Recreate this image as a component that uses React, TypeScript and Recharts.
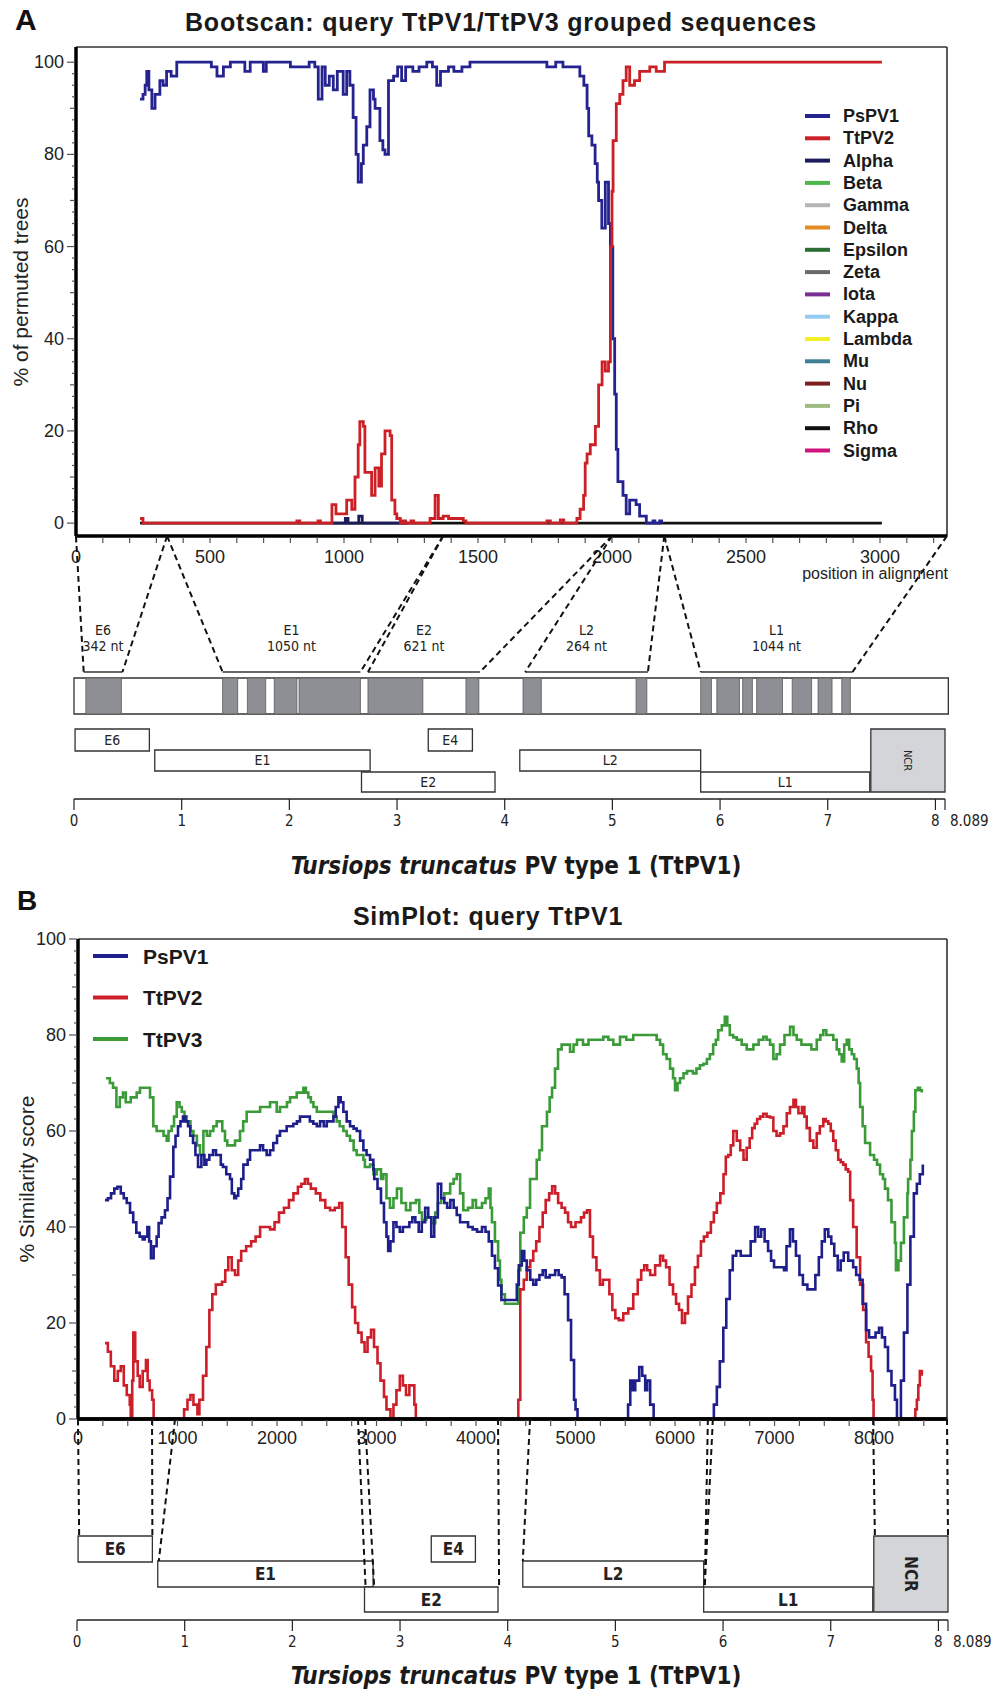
import React from "react";
import { LineChart, Line, XAxis, YAxis, ReferenceLine, ReferenceArea, ComposedChart } from "recharts";

const SANS = '"Liberation Sans", Arial, Helvetica, sans-serif';
const NARROW = '"Liberation Sans Narrow", "DejaVu Sans Condensed", "Liberation Sans", Arial, sans-serif';

// ---------- panel A: bootscan (position in alignment, % of permuted trees) ----------
const bootPsPV1 = [
  [239, 92], [250, 93], [258, 95], [264, 98], [272, 94], [283, 90], [295, 93], [313, 96], [325, 95], [338, 98],
  [355, 97], [376, 100], [505, 99], [526, 97], [550, 99], [576, 100], [630, 98], [650, 100], [699, 98], [710, 100],
  [800, 99], [836, 99], [870, 100], [891, 99], [904, 92], [918, 99], [930, 95], [945, 97], [960, 94], [975, 98],
  [997, 93], [1010, 98], [1022, 95], [1034, 88], [1045, 80], [1053, 74], [1065, 78], [1072, 82], [1085, 86], [1097, 94],
  [1110, 92], [1116, 90], [1134, 83], [1145, 81], [1153, 80], [1166, 96], [1185, 97], [1200, 99], [1215, 96], [1230, 99],
  [1257, 98], [1280, 99], [1309, 100], [1330, 99], [1346, 95], [1360, 98], [1390, 99], [1410, 98], [1440, 99], [1470, 100],
  [1743, 100], [1757, 99], [1790, 100], [1817, 99], [1850, 99], [1880, 97], [1895, 95], [1907, 90], [1913, 84], [1925, 82],
  [1937, 78], [1945, 74], [1950, 70], [1962, 64], [1975, 74], [1987, 65], [1994, 60], [2003, 40], [2010, 28], [2016, 16],
  [2022, 9], [2041, 6], [2053, 2], [2066, 5], [2090, 4], [2103, 1.5], [2128, 0], [2153, 0.5], [2160, 0], [2178, 0.5], [2185, 0],
];
const bootTtPV2 = [
  [239, 1], [250, 0], [824, 0.5], [835, 0], [903, 0.5], [912, 0], [955, 4], [970, 2], [1000, 2], [1010, 5],
  [1029, 3], [1041, 10], [1053, 17], [1059, 22], [1072, 21], [1078, 11], [1097, 11], [1103, 6], [1116, 12], [1130, 8],
  [1140, 15], [1153, 20], [1172, 19], [1178, 5], [1190, 2], [1197, 1], [1210, 0], [1220, 0.5], [1230, 0], [1250, 0.5],
  [1260, 0], [1321, 1], [1340, 6], [1352, 1], [1370, 1.5], [1390, 1], [1413, 1], [1445, 0.5], [1455, 0], [1757, 0.5],
  [1770, 0], [1807, 0.7], [1820, 0], [1869, 1], [1881, 3], [1894, 6], [1900, 13], [1907, 15], [1919, 17], [1938, 21],
  [1950, 30], [1963, 35], [1975, 33], [1987, 35], [1994, 60], [2000, 72], [2004, 83], [2016, 91], [2029, 93], [2041, 96],
  [2053, 99], [2066, 95], [2084, 96], [2103, 98], [2141, 99], [2165, 98], [2196, 100], [3007, 100],
];
const bootAlpha = [[960, 0], [1005, 1], [1015, 0], [1055, 1.5], [1068, 0], [1240, 0]];
const bootRho = [[239, 0], [3007, 0]];

const bootNames = ["PsPV1", "TtPV2", "Alpha", "Beta", "Gamma", "Delta", "Epsilon", "Zeta", "Iota", "Kappa", "Lambda", "Mu", "Nu", "Pi", "Rho", "Sigma"];
const bootColors: Record<string, string> = {
  PsPV1: "#25238f", TtPV2: "#cc2027", Alpha: "#1c1c5c", Beta: "#4cb84a", Gamma: "#b6b6b6", Delta: "#e38b22",
  Epsilon: "#2d6e34", Zeta: "#6a6a6a", Iota: "#7a3093", Kappa: "#93cbf2", Lambda: "#f2ef26", Mu: "#3f7f95",
  Nu: "#7b1f1f", Pi: "#9dbb80", Rho: "#111111", Sigma: "#d0157c",
};

// alignment map below the bootscan (genome positions in kb)
const alignBlocks = [
  [0.11, 0.44], [1.38, 1.52], [1.61, 1.78], [1.86, 2.07], [2.09, 2.66], [2.73, 3.24], [3.64, 3.76], [4.17, 4.34],
  [5.22, 5.32], [5.82, 5.92], [5.97, 6.18], [6.21, 6.3], [6.34, 6.58], [6.67, 6.85], [6.91, 7.04], [7.13, 7.21],
];
const alignRegions = ["E6", "E1", "E2", "L2", "L1"];
const alignRegionNt = ["342 nt", "1050 nt", "621 nt", "264 nt", "1044 nt"];
const alignRegionSpan = [[0.09, 0.45], [1.38, 2.66], [2.73, 3.77], [4.19, 5.33], [5.82, 7.23]];
const alignCuts = [0, 340, 1370, 2000, 2195, 3250];

// ---------- panel B: SimPlot ----------
const simPsPV1 = [
  [271, 45.6], [300, 46], [332, 47], [365, 48], [396, 48.4], [430, 47], [460, 46], [490, 45], [523, 43], [555, 41],
  [586, 38.8], [620, 38], [650, 37.4], [670, 38], [697, 40], [715, 37], [733, 33.5], [760, 36], [790, 38], [810, 40.8],
  [840, 42], [874, 43.5], [900, 46], [925, 50.5], [958, 56.7], [980, 59], [1005, 61], [1030, 62], [1055, 63], [1080, 62],
  [1106, 61], [1128, 59], [1156, 57.5], [1180, 55], [1206, 52.5], [1240, 55], [1270, 53], [1290, 54], [1320, 55], [1357, 56],
  [1387, 55], [1435, 53], [1457, 52.5], [1490, 51], [1528, 50], [1546, 47], [1570, 46], [1589, 46.5], [1610, 48], [1640, 50],
  [1662, 53], [1705, 54], [1729, 56], [1829, 57], [1860, 56], [1896, 55], [1930, 56], [1963, 57.5], [2000, 59], [2030, 60],
  [2097, 61], [2164, 61.5], [2200, 62], [2231, 63], [2330, 62], [2365, 61.5], [2400, 61], [2433, 62], [2470, 61], [2500, 62],
  [2567, 63], [2590, 65], [2617, 67], [2640, 66], [2667, 64], [2700, 62], [2734, 61], [2770, 60.5], [2801, 60], [2835, 58],
  [2868, 56], [2900, 55], [2935, 54], [2968, 52], [2977, 50], [3010, 48], [3045, 45], [3075, 41], [3100, 38], [3117, 35],
  [3140, 37], [3170, 41], [3200, 40], [3234, 39], [3265, 40], [3330, 41], [3360, 42], [3390, 41], [3424, 39], [3455, 41],
  [3489, 44], [3520, 42], [3550, 38], [3580, 42], [3616, 49], [3650, 46], [3681, 45], [3710, 44], [3742, 45.6], [3775, 44],
  [3806, 42.5], [3840, 41], [3920, 40], [3966, 39.5], [4010, 39], [4060, 40], [4095, 39], [4128, 37], [4160, 34], [4190, 31.4],
  [4222, 27.8], [4255, 24.8], [4380, 24.8], [4410, 28], [4430, 32], [4460, 35], [4485, 33], [4510, 31], [4545, 29], [4575, 28],
  [4605, 29], [4637, 30], [4670, 31], [4700, 29.5], [4740, 30], [4795, 31], [4830, 30], [4860, 29.5], [4890, 26], [4925, 20.6],
  [4955, 12.3], [4985, 4], [5000, 2], [5020, 0], [5500, 0], [5528, 3], [5550, 8], [5575, 6], [5600, 8], [5640, 10.8],
  [5670, 9], [5700, 6], [5720, 8], [5750, 3], [5785, 0], [6360, 0], [6390, 3], [6420, 6.7], [6450, 12], [6485, 19],
  [6515, 25], [6550, 31], [6580, 34], [6615, 35], [6660, 34], [6760, 37], [6805, 40], [6835, 38], [6865, 39.5], [6900, 37],
  [6935, 35], [6965, 33], [6995, 31.6], [7095, 31], [7120, 36], [7155, 39.5], [7185, 37], [7215, 34], [7250, 30], [7285, 28],
  [7330, 27], [7377, 27], [7410, 30], [7445, 33.7], [7475, 37], [7505, 39.5], [7540, 38], [7570, 36.5], [7600, 34], [7635, 31],
  [7665, 33], [7695, 34.7], [7740, 33], [7790, 31.6], [7820, 30], [7855, 29], [7885, 24], [7920, 18.5], [7950, 17], [8015, 18],
  [8050, 19], [8080, 17], [8110, 15], [8140, 10], [8175, 7], [8210, 4], [8230, 0], [8260, 0], [8270, 8], [8300, 18],
  [8335, 28], [8365, 38], [8400, 47], [8430, 49], [8460, 51], [8490, 53],
];
const simTtPV2 = [
  [271, 15.8], [300, 14], [330, 11], [365, 8], [400, 10], [430, 11], [460, 7], [490, 5], [520, 3], [530, 0],
  [545, 8], [556, 18], [575, 12], [600, 9], [620, 6.7], [650, 10], [683, 12.3], [700, 8], [720, 6], [745, 4],
  [760, 0], [1050, 0], [1066, 2], [1100, 4], [1130, 5], [1160, 3], [1200, 1], [1220, 4], [1256, 9], [1290, 15],
  [1320, 22.7], [1350, 26], [1385, 28], [1447, 28.6], [1480, 31], [1510, 33.7], [1545, 31], [1578, 30], [1610, 33], [1640, 35],
  [1690, 36], [1740, 37], [1785, 38], [1830, 40], [1930, 39.5], [1975, 41], [2020, 43], [2070, 44], [2120, 45.6], [2165, 47],
  [2210, 48.4], [2245, 49], [2280, 50], [2310, 49], [2340, 48], [2390, 47], [2435, 45.6], [2485, 44], [2533, 43.5], [2580, 44],
  [2625, 45], [2655, 40], [2690, 33.7], [2720, 28], [2755, 23.3], [2785, 20], [2815, 18], [2850, 16], [2880, 14], [2910, 17],
  [2945, 18.6], [2975, 15], [3010, 11.6], [3040, 8], [3075, 4.6], [3100, 2], [3140, 0], [3170, 3], [3200, 6], [3234, 9],
  [3265, 7], [3296, 5], [3330, 7], [3360, 7], [3380, 3], [3395, 0], [4415, 0], [4425, 4], [4445, 27], [4480, 29],
  [4510, 31.6], [4545, 33], [4575, 35], [4605, 37], [4637, 40], [4670, 43], [4700, 45.6], [4735, 47], [4765, 48.5], [4795, 47],
  [4825, 45], [4860, 44], [4895, 43], [4925, 41], [4955, 40], [5000, 41], [5055, 42], [5085, 43], [5115, 43.5], [5145, 38],
  [5175, 33.7], [5210, 31], [5245, 28], [5275, 29], [5340, 26], [5370, 22.7], [5400, 21], [5435, 20.6], [5480, 22], [5530, 23],
  [5580, 26], [5625, 29], [5660, 31], [5690, 32], [5720, 31], [5750, 30], [5800, 32], [5850, 34], [5880, 33], [5910, 31.6],
  [5945, 28], [5980, 26], [6010, 24], [6040, 22.7], [6070, 20], [6100, 22], [6130, 25.5], [6165, 28], [6200, 31.6], [6230, 34],
  [6260, 37], [6290, 38], [6325, 38.8], [6360, 41], [6390, 43], [6420, 45], [6455, 47], [6487, 51], [6510, 54.6], [6535, 55],
  [6560, 57], [6585, 60], [6620, 58], [6655, 56], [6688, 54], [6720, 56.5], [6750, 58.5], [6775, 60.6], [6800, 61.5], [6825, 62.5],
  [6855, 63], [6887, 63.6], [6920, 63], [6955, 62.8], [6988, 60], [7020, 59], [7055, 59.5], [7090, 61], [7123, 63.7], [7155, 65],
  [7190, 66.5], [7215, 65], [7240, 63.7], [7275, 65], [7300, 63], [7323, 60.6], [7355, 58], [7390, 56.5], [7424, 59.5], [7455, 61],
  [7490, 62.5], [7515, 62], [7540, 61.5], [7565, 60], [7590, 58], [7615, 56], [7640, 54], [7665, 53.5], [7690, 53], [7715, 52],
  [7740, 51.5], [7760, 45.6], [7790, 40], [7825, 33.7], [7860, 28], [7890, 22.7], [7920, 16], [7945, 13], [7970, 10], [7985, 4],
  [7995, 0], [8400, 0], [8415, 2], [8430, 4], [8445, 7], [8460, 10], [8480, 9],
];
const simTtPV3 = [
  [281, 71], [320, 70], [352, 69], [386, 65], [420, 67], [452, 68], [480, 66], [530, 67], [590, 68], [623, 69],
  [693, 69], [724, 67], [757, 61], [790, 60], [860, 59], [891, 58], [910, 60], [941, 61], [965, 63], [992, 66],
  [1020, 65], [1043, 64], [1070, 63], [1093, 62], [1130, 60], [1160, 59], [1195, 57], [1226, 55], [1260, 60], [1295, 59],
  [1327, 60], [1360, 61], [1394, 62], [1450, 60], [1477, 58], [1500, 57], [1578, 58], [1628, 60], [1660, 62], [1695, 64],
  [1830, 65], [1930, 66], [1997, 64], [2030, 65], [2100, 66], [2131, 67], [2198, 68], [2265, 69], [2290, 68], [2315, 67],
  [2340, 66], [2366, 65], [2400, 64], [2567, 63], [2600, 62], [2630, 61], [2667, 60], [2700, 59], [2734, 58], [2770, 56],
  [2801, 55], [2868, 54], [2883, 52.5], [2935, 53], [2970, 51], [3002, 52], [3045, 50], [3068, 51], [3100, 46], [3135, 44],
  [3170, 46], [3205, 48], [3250, 45], [3296, 43.5], [3340, 45], [3396, 45.6], [3430, 43], [3457, 41.5], [3500, 42], [3550, 40.8],
  [3590, 43], [3616, 45], [3650, 46], [3681, 47], [3740, 49], [3775, 50], [3806, 51], [3840, 47], [3872, 43.5], [3920, 44],
  [3966, 45.6], [4000, 44], [4060, 45], [4095, 46], [4128, 48], [4145, 44], [4160, 41], [4190, 37], [4222, 33], [4240, 29],
  [4255, 26], [4290, 24], [4410, 24], [4425, 31], [4445, 38.8], [4480, 42], [4510, 44], [4543, 50], [4610, 54], [4637, 56],
  [4663, 61], [4713, 64], [4740, 67], [4764, 69], [4794, 73], [4824, 77], [4860, 78], [4945, 76.5], [4980, 78], [5015, 79],
  [5075, 78], [5130, 79], [5279, 79.6], [5330, 79], [5380, 78], [5447, 79.6], [5510, 79], [5580, 80], [5815, 79], [5850, 78],
  [5880, 76], [5915, 75], [5950, 73], [5980, 71], [6000, 68.5], [6025, 70], [6050, 71], [6085, 72], [6120, 72.5], [6180, 72],
  [6215, 73], [6250, 73.7], [6285, 74], [6320, 75], [6350, 76], [6383, 78], [6410, 79], [6433, 81], [6470, 82], [6500, 83.8],
  [6525, 82], [6550, 80], [6585, 79.5], [6620, 79], [6670, 78], [6720, 77], [6787, 78], [6840, 79], [6887, 79.6], [6920, 79],
  [6955, 78], [6988, 75], [7020, 76], [7055, 78], [7100, 80], [7156, 81.7], [7190, 80], [7223, 79], [7270, 78], [7370, 77],
  [7424, 79], [7460, 80], [7490, 81], [7520, 80], [7590, 79], [7625, 77], [7650, 76], [7675, 74.5], [7700, 78], [7725, 79],
  [7750, 77], [7776, 76], [7800, 75], [7826, 73], [7845, 70], [7860, 65], [7885, 61], [7910, 57.5], [7960, 55], [8000, 54],
  [8030, 53], [8060, 51], [8090, 50], [8110, 48], [8140, 45.6], [8175, 41], [8210, 36.7], [8220, 31], [8245, 33], [8270, 36.7],
  [8300, 42], [8335, 47], [8342, 50], [8365, 54], [8380, 60], [8400, 64], [8415, 68.5], [8440, 69], [8462, 68.5], [8480, 68],
];
const simNames = ["PsPV1", "TtPV2", "TtPV3"];
const simColors: Record<string, string> = { PsPV1: "#1f1f8c", TtPV2: "#cc1f2a", TtPV3: "#3b9b38" };

// [position in query, genome kb where it lands, gene row]
const simCuts = [
  [0, 0.02, 0], [744, 0.7, 0], [975, 0.76, 1], [2814, 2.68, 2], [2884, 2.76, 2], [4221, 3.92, 2],
  [4543, 4.14, 1], [6330, 5.83, 2], [6380, 5.83, 2], [7990, 7.41, 0], [8733, 8.089, 0],
];

// ---------- genome organisation (kb) ----------
const GENOME_KB = 8.089;
const genes = ["E6", "E4", "E1", "L2", "E2", "L1"];
const geneStart = [0.01, 3.29, 0.75, 4.14, 2.67, 5.82];
const geneEnd = [0.7, 3.7, 2.75, 5.82, 3.91, 7.39];
const geneRow = [0, 0, 1, 1, 2, 2];
const ncrSpan = [7.4, 8.089];
const kbTicks = [0, 1, 2, 3, 4, 5, 6, 7, 8, 8.089];

// ticks
const bootXTicks = Array.from({ length: 33 }, (_, i) => i * 100);
const simXTicks = Array.from({ length: 35 }, (_, i) => i * 250);
const pctTicks = Array.from({ length: 41 }, (_, i) => i * 2.5);

// layout
const BOOT = { left: 76, right: 947, xMax: 3250, yMin: -2.8, yMax: 103.3 };
const SIM = { left: 78, right: 947, xMax: 8733 };
const GENE_A = { left: 74, right: 945 };
const GENE_B = { left: 77, right: 948 };

const pts = (a: number[][]) => a.map(([x, y]) => ({ x, y }));
const toKb = (pos: number, src: { left: number; right: number; xMax: number }, g: { left: number; right: number }) =>
  ((src.left + (pos / src.xMax) * (src.right - src.left)) - g.left) / (g.right - g.left) * GENOME_KB;

const yTick = (props: any) => {
  const { x, y, payload } = props;
  const v = payload.value;
  const lab = v % 20 === 0;
  const len = lab ? 9 : v % 10 === 0 ? 6 : 4;
  return (
    <g>
      <line x1={x - len} x2={x - 1} y1={y} y2={y} stroke="#555" strokeWidth={1.2} />
      {lab && (
        <text x={x - 12} y={y} textAnchor="end" dominantBaseline="central" fontSize={18} fontFamily={SANS} fill="#222">
          {v}
        </text>
      )}
    </g>
  );
};

const xTick = (every: number, dy: number) => (props: any) => {
  const { x, y, payload } = props;
  const v = payload.value;
  return (
    <g>
      <line x1={x} x2={x} y1={y + 1} y2={y + 7} stroke="#555" strokeWidth={1.2} />
      {v % every === 0 && (
        <text x={x} y={y + dy} textAnchor="middle" dominantBaseline="central" fontSize={18} fontFamily={SANS} fill="#222">
          {v}
        </text>
      )}
    </g>
  );
};

const kbTick = (props: any) => {
  const { x, y, payload } = props;
  const v = payload.value;
  const end = v > 8.01;
  return (
    <g>
      <line x1={x} x2={x} y1={y} y2={y + 11} stroke="#222" strokeWidth={1.2} />
      <text x={end ? x + 5 : x} y={y + 22} textAnchor={end ? "start" : "middle"} dominantBaseline="central" fontSize={15} fontFamily={NARROW} fill="#222">
        {v}
      </text>
    </g>
  );
};

const ncrLabel = (size: number, weight: string) => (props: any) => {
  const { x, y, width, height } = props.viewBox;
  const cx = x + width / 2;
  const cy = y + height / 2;
  return (
    <text x={cx} y={cy} transform={`rotate(90 ${cx} ${cy})`} textAnchor="middle" dominantBaseline="central" fontSize={size} fontWeight={weight} fontFamily={NARROW} fill="#222">
      NCR
    </text>
  );
};

function geneAreas(rowTop: number[], rowBottom: number[], size: number, weight: string) {
  const boxes = genes.map((g, i) => (
    <ReferenceArea
      key={g}
      x1={geneStart[i]}
      x2={geneEnd[i]}
      y1={rowTop[geneRow[i]]}
      y2={rowBottom[geneRow[i]]}
      fill="#fff"
      fillOpacity={1}
      stroke="#333"
      strokeWidth={1.3}
      ifOverflow="visible"
      label={{ value: g, position: "center", fontSize: size, fontWeight: weight, fontFamily: NARROW, fill: "#222" }}
    />
  ));
  boxes.push(
    <ReferenceArea
      key="ncr"
      x1={ncrSpan[0]}
      x2={ncrSpan[1]}
      y1={rowTop[0]}
      y2={rowBottom[2]}
      fill="#d3d5d8"
      fillOpacity={1}
      stroke="#333"
      strokeWidth={1.3}
      ifOverflow="visible"
      label={ncrLabel(weight === "bold" ? size : 11, weight)}
    />
  );
  return boxes;
}

function kbAxis() {
  return (
    <XAxis
      type="number"
      dataKey="kb"
      domain={[0, GENOME_KB]}
      allowDataOverflow
      ticks={kbTicks}
      interval={0}
      tickSize={0}
      tickMargin={0}
      tickLine={false}
      tick={kbTick}
      axisLine={{ stroke: "#222", strokeWidth: 1.4 }}
      height={40}
    />
  );
}

function BootscanChart() {
  const lineProps = { dataKey: "y", type: "stepAfter" as const, strokeWidth: 2.8, dot: false, isAnimationActive: false };
  return (
    <LineChart width={995} height={600} margin={{ top: 47, right: 995 - BOOT.right, bottom: 24, left: BOOT.left - 60 }}>
      <XAxis type="number" dataKey="x" domain={[0, BOOT.xMax]} ticks={bootXTicks} interval={0} tickSize={0} tickMargin={0}
        tickLine={false} tick={xTick(500, 21)} axisLine={{ stroke: "#000", strokeWidth: 3.5 }} height={40} />
      <YAxis type="number" domain={[BOOT.yMin, BOOT.yMax]} ticks={pctTicks} interval={0} tickSize={0} tickMargin={0}
        tickLine={false} tick={yTick} axisLine={{ stroke: "#000", strokeWidth: 3.5 }} width={60} />
      <ReferenceLine y={BOOT.yMax} stroke="#333" strokeWidth={1.6} ifOverflow="visible" />
      <ReferenceLine x={BOOT.xMax} stroke="#333" strokeWidth={1.6} ifOverflow="visible" />
      <Line {...lineProps} data={pts(bootRho)} stroke={bootColors.Rho} />
      <Line {...lineProps} data={pts(bootAlpha)} stroke={bootColors.Alpha} />
      <Line {...lineProps} data={pts(bootPsPV1)} stroke={bootColors.PsPV1} />
      <Line {...lineProps} data={pts(bootTtPV2)} stroke={bootColors.TtPV2} />
    </LineChart>
  );
}

function SimPlotChart() {
  const lineProps = { dataKey: "y", type: "stepAfter" as const, strokeWidth: 2.6, dot: false, isAnimationActive: false };
  return (
    <LineChart width={995} height={569} margin={{ top: 39, right: 995 - SIM.right, bottom: 10, left: SIM.left - 60 }}>
      <XAxis type="number" dataKey="x" domain={[0, SIM.xMax]} ticks={simXTicks} interval={0} tickSize={0} tickMargin={0}
        tickLine={false} tick={xTick(1000, 19)} axisLine={{ stroke: "#000", strokeWidth: 3.5 }} height={40} />
      <YAxis type="number" domain={[0, 100]} ticks={pctTicks} interval={0} tickSize={0} tickMargin={0}
        tickLine={false} tick={yTick} axisLine={{ stroke: "#000", strokeWidth: 3.5 }} width={60} />
      <ReferenceLine y={100} stroke="#333" strokeWidth={1.6} ifOverflow="visible" />
      <ReferenceLine x={SIM.xMax} stroke="#333" strokeWidth={1.6} ifOverflow="visible" />
      <Line {...lineProps} data={pts(simTtPV3)} stroke={simColors.TtPV3} />
      <Line {...lineProps} data={pts(simTtPV2)} stroke={simColors.TtPV2} />
      <Line {...lineProps} data={pts(simPsPV1)} stroke={simColors.PsPV1} />
      <ReferenceLine y={0} stroke="#000" strokeWidth={3.5} ifOverflow="visible" />
    </LineChart>
  );
}

// invisible line that anchors the y scale of the schematic charts
function anchorLine(h: number) {
  return (
    <Line data={[{ kb: 0, row: 0 }, { kb: GENOME_KB, row: h }]} dataKey="row" stroke="none" strokeWidth={0}
      dot={false} activeDot={false} isAnimationActive={false} legendType="none" />
  );
}

function GenomeMapA() {
  const H = 263; // plot height (bootscan axis -> kb axis)
  const BRACKET = 136;
  const BAR = [142, 178];
  const conns: { from: number; to: number }[] = [];
  alignCuts.forEach((cut, i) => {
    const from = toKb(cut, BOOT, GENE_A);
    if (i > 0) conns.push({ from, to: alignRegionSpan[i - 1][1] });
    if (i < alignRegionSpan.length) conns.push({ from, to: alignRegionSpan[i][0] });
  });
  return (
    <ComposedChart width={995} height={H + 40} margin={{ top: 0, right: 995 - GENE_A.right, bottom: 0, left: GENE_A.left }}>
      {kbAxis()}
      <YAxis hide type="number" reversed domain={[0, H]} allowDataOverflow />
      {anchorLine(H)}
      <ReferenceArea x1={0} x2={8.12} y1={BAR[0]} y2={BAR[1]} fill="#fff" fillOpacity={1} stroke="#333" strokeWidth={1.3} ifOverflow="visible" />
      {alignBlocks.map(([s, e], i) => (
        <ReferenceArea key={"b" + i} x1={s} x2={e} y1={BAR[0]} y2={BAR[1]} fill="#8e8f94" fillOpacity={1} stroke="#5a5a5e" strokeWidth={0.8} ifOverflow="visible" />
      ))}
      {alignRegions.map((r, i) => (
        <ReferenceArea key={"n" + i} x1={alignRegionSpan[i][0]} x2={alignRegionSpan[i][1]} y1={86} y2={102} fill="none" stroke="none" ifOverflow="visible"
          label={{ value: r, position: "center", fontSize: 14, fontFamily: NARROW, fill: "#222" }} />
      ))}
      {alignRegionNt.map((r, i) => (
        <ReferenceArea key={"t" + i} x1={alignRegionSpan[i][0]} x2={alignRegionSpan[i][1]} y1={102} y2={118} fill="none" stroke="none" ifOverflow="visible"
          label={{ value: r, position: "center", fontSize: 14, fontFamily: NARROW, fill: "#222" }} />
      ))}
      {alignRegionSpan.map(([s, e], i) => (
        <ReferenceLine key={"k" + i} segment={[{ x: s, y: BRACKET }, { x: e, y: BRACKET }]} stroke="#333" strokeWidth={1.5} ifOverflow="visible" />
      ))}
      {geneAreas([193, 214, 236], [215, 235, 256], 14, "normal")}
      {conns.map((c, i) => (
        <ReferenceLine key={"c" + i} segment={[{ x: c.from, y: 0 }, { x: c.to, y: BRACKET }]} stroke="#111" strokeWidth={2} strokeDasharray="6 4" ifOverflow="visible" />
      ))}
    </ComposedChart>
  );
}

function GenomeMapB() {
  const H = 201;
  const rowTop = [117, 142, 168];
  const rowBottom = [143, 168, 193];
  return (
    <ComposedChart width={995} height={H + 40} margin={{ top: 0, right: 995 - GENE_B.right, bottom: 0, left: GENE_B.left }}>
      {kbAxis()}
      <YAxis hide type="number" reversed domain={[0, H]} allowDataOverflow />
      {anchorLine(H)}
      {geneAreas(rowTop, rowBottom, 17, "bold")}
      {simCuts.map(([pos, kb, row], i) => (
        <ReferenceLine key={"c" + i} segment={[{ x: toKb(pos, SIM, GENE_B), y: 0 }, { x: kb, y: rowTop[row] }]}
          stroke="#111" strokeWidth={2} strokeDasharray="6 4" ifOverflow="visible" />
      ))}
    </ComposedChart>
  );
}

function Overlay() {
  const genomeTitle = (y: number) => (
    <text x={516} y={y} textAnchor="middle" dominantBaseline="central" fontSize={24} fontWeight="bold" fontFamily={NARROW} fill="#1a1a1a">
      <tspan fontStyle="italic">Tursiops truncatus</tspan> PV type 1 (TtPV1)
    </text>
  );
  return (
    <svg width={995} height={1692} style={{ position: "absolute", left: 0, top: 0, pointerEvents: "none" }}>
      <text x={15} y={30} fontSize={30} fontWeight="bold" fontFamily={SANS} fill="#111">A</text>
      <text x={501} y={31} textAnchor="middle" fontSize={25} fontWeight="bold" letterSpacing={0.8} fontFamily={SANS} fill="#1a1a1a">
        Bootscan: query TtPV1/TtPV3 grouped sequences
      </text>
      <text x={20} y={292} transform="rotate(-90 20 292)" textAnchor="middle" dominantBaseline="central" fontSize={21} fontFamily={SANS} fill="#222">
        % of permuted trees
      </text>
      <text x={948} y={573} textAnchor="end" dominantBaseline="central" fontSize={16} fontFamily={SANS} fill="#222">
        position in alignment
      </text>
      {bootNames.map((n, i) => (
        <g key={n}>
          <line x1={805} x2={830} y1={116 + i * 22.3} y2={116 + i * 22.3} stroke={bootColors[n]} strokeWidth={4} />
          <text x={843} y={116 + i * 22.3} dominantBaseline="central" fontSize={18} fontWeight="bold" fontFamily={SANS} fill="#1a1a1a">
            {n}
          </text>
        </g>
      ))}
      {genomeTitle(866)}
      <text x={17} y={910} fontSize={28} fontWeight="bold" fontFamily={SANS} fill="#111">B</text>
      <text x={488} y={925} textAnchor="middle" fontSize={25} fontWeight="bold" letterSpacing={0.8} fontFamily={SANS} fill="#1a1a1a">
        SimPlot: query TtPV1
      </text>
      <text x={26} y={1179} transform="rotate(-90 26 1179)" textAnchor="middle" dominantBaseline="central" fontSize={21} fontFamily={SANS} fill="#222">
        % Similarity score
      </text>
      {simNames.map((n, i) => (
        <g key={n}>
          <line x1={93} x2={128} y1={956 + i * 41.5} y2={956 + i * 41.5} stroke={simColors[n]} strokeWidth={4} />
          <text x={143} y={956 + i * 41.5} dominantBaseline="central" fontSize={21} fontWeight="bold" fontFamily={SANS} fill="#1a1a1a">
            {n}
          </text>
        </g>
      ))}
      {genomeTitle(1676)}
    </svg>
  );
}

export default function App() {
  return (
    <div style={{ position: "absolute", left: 0, top: 0, width: 995, height: 1692, background: "#fff", fontFamily: SANS }}>
      <div style={{ position: "absolute", left: 0, top: 0 }}>
        <BootscanChart />
      </div>
      <div style={{ position: "absolute", left: 0, top: 536 }}>
        <GenomeMapA />
      </div>
      <div style={{ position: "absolute", left: 0, top: 900 }}>
        <SimPlotChart />
      </div>
      <div style={{ position: "absolute", left: 0, top: 1419 }}>
        <GenomeMapB />
      </div>
      <Overlay />
    </div>
  );
}
